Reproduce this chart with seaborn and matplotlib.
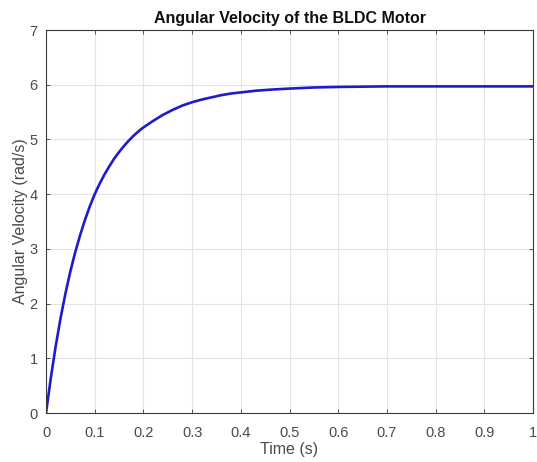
import matplotlib
matplotlib.use("Agg")
import matplotlib.pyplot as plt
import seaborn as sns
import pandas as pd

time_s = [0, 0.01, 0.02, 0.03, 0.04, 0.05, 0.06, 0.07, 0.08, 0.09, 0.10,
          0.11, 0.12, 0.13, 0.14, 0.15, 0.16, 0.17, 0.18, 0.19, 0.20,
          0.22, 0.24, 0.26, 0.28, 0.30, 0.32, 0.34, 0.36, 0.38, 0.40,
          0.43, 0.46, 0.50, 0.55, 0.60, 0.65, 0.70, 0.80, 0.90, 1.00]
velocity = [0, 0.65, 1.23, 1.74, 2.19, 2.59, 2.94, 3.25, 3.53, 3.78, 4.00,
            4.19, 4.36, 4.51, 4.65, 4.77, 4.88, 4.98, 5.07, 5.15, 5.22,
            5.34, 5.45, 5.54, 5.62, 5.68, 5.73, 5.77, 5.81, 5.84, 5.86,
            5.89, 5.91, 5.93, 5.95, 5.96, 5.965, 5.97, 5.97, 5.97, 5.97]
x_ticks = [0, 0.1, 0.2, 0.3, 0.4, 0.5, 0.6, 0.7, 0.8, 0.9, 1]
x_tick_labels = ["0", "0.1", "0.2", "0.3", "0.4", "0.5", "0.6", "0.7", "0.8", "0.9", "1"]
y_ticks = [0, 1, 2, 3, 4, 5, 6, 7]

sns.set_theme(style="whitegrid")
plt.rcParams['font.family'] = ['Liberation Sans', 'DejaVu Sans']

df = pd.DataFrame({"Time (s)": time_s, "Angular Velocity (rad/s)": velocity})

fig = plt.figure(figsize=(5.37, 4.62), dpi=100)
ax = fig.add_axes([0.0857, 0.106, 0.907, 0.829])
sns.lineplot(data=df, x="Time (s)", y="Angular Velocity (rad/s)", ax=ax,
             color="#1c1ccc", linewidth=1.9)

ax.set_xlim(0, 1)
ax.set_ylim(0, 7)
ax.set_xticks(x_ticks)
ax.set_xticklabels(x_tick_labels)
ax.set_yticks(y_ticks)
ax.grid(True, color="#e3e3e3", linewidth=0.8)
for s in ax.spines.values():
    s.set_color("#3a3a3a")
    s.set_linewidth(0.8)
ax.tick_params(direction="in", length=3, width=0.6, colors="#3a3a3a",
               labelsize=10.5, top=True, right=True, bottom=True, left=True,
               labelcolor="#4a4a4a")
ax.tick_params(axis="x", pad=9)
ax.tick_params(axis="y", pad=6)
ax.set_xlabel("Time (s)", fontsize=11.5, color="#4a4a4a", labelpad=2)
ax.set_ylabel("Angular Velocity (rad/s)", fontsize=11.5, color="#4a4a4a", labelpad=1)
ax.set_title("Angular Velocity of the BLDC Motor", fontsize=11.5,
             fontweight="bold", color="#111111", pad=5)

fig.savefig("out.png", dpi=100, facecolor="white")
